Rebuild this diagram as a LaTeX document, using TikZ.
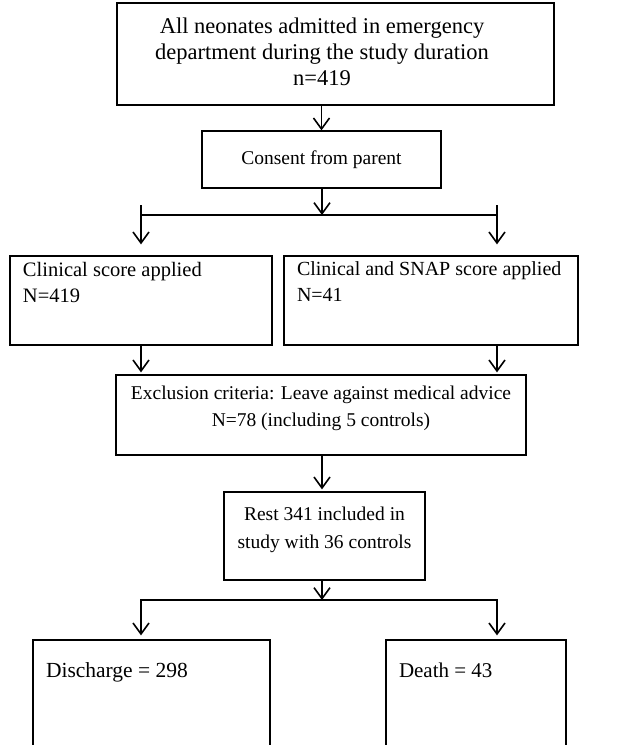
\documentclass[tikz,border=0pt]{standalone}
\usepackage{fontspec}
\setmainfont{Liberation Serif}
\usetikzlibrary{arrows.meta}
\begin{document}
\begin{tikzpicture}[x=1pt, y=-1pt, font=\fontsize{20}{26}\selectfont, line join=miter, >={Straight Barb[length=11pt,width=16pt]},
  box/.style={draw, line width=1.3pt, inner sep=0pt},
  topbox/.style={box, inner xsep=13pt, inner ysep=0pt},
  flow/.style={->, line width=1.6pt}]
  \useasboundingbox (0,0) rectangle (644,745);
  % boxes
  \node[box, minimum width=437pt, minimum height=102pt, font=\fontsize{22.5}{26}\selectfont] (all) at (335.5,54)
    {\makebox[437pt]{\hspace*{-27pt}\begin{tabular}{@{}c@{}}All neonates admitted in emergency\\department during the study duration\\n=419\end{tabular}}};
  \node[box, minimum width=239pt, minimum height=57pt, font=\fontsize{19.5}{26}\selectfont] (cons) at (321.5,159.5) {Consent from parent};
  \node[topbox, font=\fontsize{20.5}{26}\selectfont] (clin) at (141,300.5) {\parbox[c][89pt][t]{236pt}{\vspace*{6pt}Clinical score applied\\N=419}};
  \node[topbox] (snap) at (431,300.5) {\parbox[c][89pt][t]{268pt}{\vspace*{6pt}Clinical and SNAP score applied\\N=41}};
  \node[box, font=\fontsize{19.5}{27}\selectfont] (excl) at (321,415) {\parbox[c][80pt][t]{410pt}{\centering\vspace*{11pt}Exclusion criteria: Leave against medical advice\\N=78 (including 5 controls)}};
  \node[box, font=\fontsize{19.5}{28}\selectfont] (rest) at (324.5,536) {\parbox[c][88pt][t]{201pt}{\centering\vspace*{15pt}Rest 341 included in\\study with 36 controls}};
  \node[topbox, font=\fontsize{21.5}{26}\selectfont] (dis) at (151.5,700) {\parbox[c][120pt][t]{211pt}{\vspace*{23pt}Discharge = 298}};
  \node[topbox, font=\fontsize{21}{26}\selectfont] (death) at (476,700) {\parbox[c][120pt][t]{154pt}{\vspace*{23pt}Death = 43}};
  % branch points
  \coordinate (s1) at (322,215); \coordinate (s1l) at (141,215); \coordinate (s1r) at (497,215);
  \coordinate (s2) at (322,600); \coordinate (s2l) at (141,600); \coordinate (s2r) at (497,600);
  % connectors
  \draw[flow] (cons.north |- all.south) -- (cons.north);
  \draw[flow] (s1 |- cons.south) -- (s1);
  \draw[line width=1.6pt] (s1l) -- (s1r);
  \draw[flow, shorten >=11pt] ([yshift=10pt]s1l) -- (s1l |- clin.north);
  \draw[flow, shorten >=11pt] ([yshift=10pt]s1r) -- (s1r |- snap.north);
  \draw[flow, shorten >=2pt] (clin.south) -- (clin.south |- excl.north);
  \draw[flow, shorten >=2pt] (snap.south -| s1r) -- (s1r |- excl.north);
  \draw[flow, shorten >=2pt] (s2 |- excl.south) -- (s2 |- rest.north);
  \draw[flow] (s2 |- rest.south) -- (s2);
  \draw[<->, line width=1.6pt, shorten <=4pt, shorten >=4pt] (s2l |- dis.north) -- (s2l) -- (s2r) -- (s2r |- death.north);
\end{tikzpicture}
\end{document}
